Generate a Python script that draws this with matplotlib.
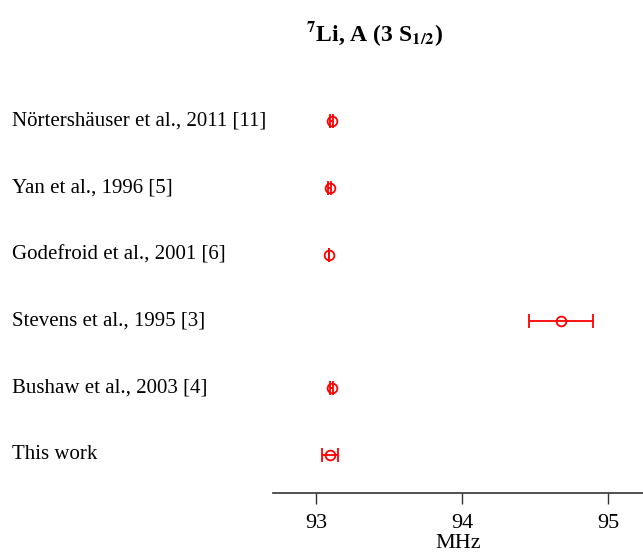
import numpy as np
import matplotlib.pyplot as plt
from matplotlib.transforms import blended_transform_factory

plt.rcParams['font.family'] = 'Liberation Serif'
plt.rcParams['mathtext.fontset'] = 'stix'

# hyperfine constant A of 7Li 3 S1/2, MHz
refs = ['This work', 'Bushaw et al., 2003 [4]', 'Stevens et al., 1995 [3]',
        'Godefroid et al., 2001 [6]', 'Yan et al., 1996 [5]',
        'Nörtershäuser et al., 2011 [11]']
values = [93.095, 93.106, 94.68, 93.089, 93.093, 93.106]
errors = [0.052, 0.011, 0.22, 0.002, 0.010, 0.011]

fig = plt.figure(figsize=(6.43, 5.54), dpi=100)
ax = fig.add_axes([273 / 643, 61 / 554, 370 / 643, 433 / 554])

ypos = np.arange(len(refs))
ax.errorbar(values, ypos, xerr=errors, fmt='o', color='red', mfc='none',
            ms=7, mew=1.3, elinewidth=1.3, capsize=5, capthick=1.3)

ax.set_xlim(92.705, 95.24)
ax.set_ylim(-0.569, 5.913)
for s in ['left', 'right', 'top']:
    ax.spines[s].set_visible(False)
ax.spines['bottom'].set_linewidth(1.2)
ax.spines['bottom'].set_color('#333333')
ax.set_yticks([])
ax.set_xticks([93, 94, 95])
ax.tick_params(axis='x', direction='out', length=8, width=1.0, labelsize=16,
               pad=7, color='#333333')
ax.set_xlabel('MHz', fontsize=16, labelpad=1)

# reference names sit at the left edge of the figure
trans = blended_transform_factory(fig.transFigure, ax.transData)
for y, name in zip(ypos, refs):
    ax.text(12 / 643, y, name, transform=trans, fontsize=15,
            va='center', ha='left')

fig.text(375 / 643, 1 - 34 / 554, r'$^{\mathbf{7}}$Li, A (3 S$_{\mathbf{1/2}}$)',
         fontsize=17, fontweight='bold', ha='center', va='center')

fig.savefig('out.png', dpi=100)
